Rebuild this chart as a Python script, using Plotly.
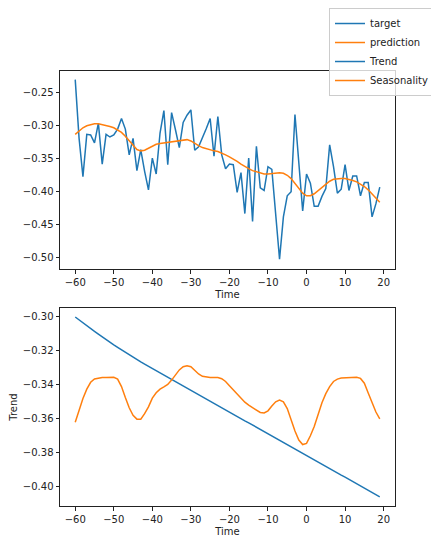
import plotly.graph_objects as go
from plotly.subplots import make_subplots

# time index -60 .. 19
time = list(range(-60, 20))

target = [
    -0.231, -0.320, -0.378, -0.314, -0.315, -0.327, -0.297, -0.359, -0.314, -0.318,
    -0.315, -0.306, -0.290, -0.306, -0.345, -0.320, -0.369, -0.337, -0.370, -0.398,
    -0.350, -0.374, -0.312, -0.278, -0.360, -0.281, -0.307, -0.334, -0.296, -0.285,
    -0.277, -0.338, -0.333, -0.320, -0.305, -0.290, -0.347, -0.287, -0.345, -0.366,
    -0.359, -0.360, -0.402, -0.372, -0.434, -0.350, -0.446, -0.332, -0.395, -0.399,
    -0.363, -0.367, -0.435, -0.503, -0.439, -0.407, -0.401, -0.284, -0.357, -0.430,
    -0.374, -0.388, -0.423, -0.423, -0.408, -0.396, -0.330, -0.363, -0.403, -0.397,
    -0.360, -0.399, -0.377, -0.377, -0.407, -0.387, -0.387, -0.439, -0.419, -0.394,
]

prediction = [
    -0.314, -0.309, -0.304, -0.301, -0.299, -0.298, -0.298, -0.299, -0.300, -0.302,
    -0.304, -0.307, -0.311, -0.317, -0.324, -0.331, -0.337, -0.339, -0.338, -0.335,
    -0.332, -0.329, -0.328, -0.327, -0.326, -0.326, -0.325, -0.323, -0.322, -0.322,
    -0.324, -0.328, -0.331, -0.334, -0.336, -0.338, -0.339, -0.340, -0.342, -0.345,
    -0.348, -0.351, -0.355, -0.359, -0.363, -0.366, -0.369, -0.371, -0.373, -0.374,
    -0.374, -0.373, -0.372, -0.372, -0.373, -0.376, -0.381, -0.388, -0.396, -0.403,
    -0.407, -0.407, -0.404, -0.399, -0.394, -0.389, -0.385, -0.382, -0.381, -0.381,
    -0.381, -0.382, -0.384, -0.386, -0.389, -0.393, -0.398, -0.404, -0.411, -0.417,
]

trend = [
    -0.3000, -0.3018, -0.3035, -0.3052, -0.3069, -0.3085, -0.3101, -0.3118, -0.3133, -0.3149,
    -0.3164, -0.3179, -0.3194, -0.3209, -0.3223, -0.3237, -0.3251, -0.3265, -0.3278, -0.3291,
    -0.3304, -0.3317, -0.3330, -0.3343, -0.3355, -0.3368, -0.3381, -0.3394, -0.3407, -0.3420,
    -0.3432, -0.3445, -0.3458, -0.3471, -0.3484, -0.3496, -0.3509, -0.3522, -0.3535, -0.3548,
    -0.3560, -0.3573, -0.3586, -0.3599, -0.3612, -0.3624, -0.3637, -0.3650, -0.3663, -0.3676,
    -0.3688, -0.3701, -0.3714, -0.3727, -0.3740, -0.3752, -0.3765, -0.3778, -0.3791, -0.3804,
    -0.3816, -0.3829, -0.3842, -0.3855, -0.3868, -0.3880, -0.3893, -0.3906, -0.3919, -0.3932,
    -0.3944, -0.3957, -0.3970, -0.3983, -0.3996, -0.4008, -0.4021, -0.4034, -0.4047, -0.4060,
]

seasonality = [
    -0.3620, -0.3550, -0.3480, -0.3425, -0.3385, -0.3365, -0.3360, -0.3357, -0.3356, -0.3355,
    -0.3355, -0.3366, -0.3410, -0.3475, -0.3535, -0.3580, -0.3602, -0.3602, -0.3570, -0.3530,
    -0.3478, -0.3447, -0.3425, -0.3412, -0.3398, -0.3372, -0.3343, -0.3312, -0.3293, -0.3287,
    -0.3293, -0.3315, -0.3336, -0.3350, -0.3355, -0.3356, -0.3356, -0.3357, -0.3364, -0.3380,
    -0.3405, -0.3430, -0.3458, -0.3482, -0.3502, -0.3520, -0.3535, -0.3550, -0.3563, -0.3566,
    -0.3553, -0.3525, -0.3500, -0.3490, -0.3500, -0.3540, -0.3610, -0.3672, -0.3725, -0.3752,
    -0.3745, -0.3700, -0.3645, -0.3575, -0.3505, -0.3452, -0.3410, -0.3380, -0.3366, -0.3360,
    -0.3358, -0.3357, -0.3355, -0.3355, -0.3362, -0.3390, -0.3448, -0.3506, -0.3560, -0.3600,
]

blue = "#1f77b4"
orange = "#ff7f0e"

fig = make_subplots(rows=2, cols=1, vertical_spacing=0.0896)

fig.add_trace(go.Scatter(x=time, y=target, mode="lines", name="target",
                         line=dict(color=blue, width=1.5)), row=1, col=1)
fig.add_trace(go.Scatter(x=time, y=prediction, mode="lines", name="prediction",
                         line=dict(color=orange, width=1.5)), row=1, col=1)
fig.add_trace(go.Scatter(x=time, y=trend, mode="lines", name="Trend",
                         line=dict(color=blue, width=1.5)), row=2, col=1)
fig.add_trace(go.Scatter(x=time, y=seasonality, mode="lines", name="Seasonality",
                         line=dict(color=orange, width=1.5)), row=2, col=1)

axis_style = dict(showline=True, linecolor="#222", linewidth=1, mirror=True,
                  ticks="outside", ticklen=3.5, tickcolor="#222", showgrid=False,
                  zeroline=False, tickfont=dict(size=10, color="#222"))

fig.update_xaxes(range=[-63.95, 22.95], dtick=10, tick0=0,
                 title=dict(text="Time", font=dict(size=10, color="#222"), standoff=4),
                 **axis_style)
fig.update_yaxes(range=[-0.518, -0.218], dtick=0.05, tick0=0, tickformat=".2f",
                 row=1, col=1, **axis_style)
fig.update_yaxes(range=[-0.4114, -0.2947], dtick=0.02, tick0=0, tickformat=".2f",
                 title=dict(text="Trend", font=dict(size=10, color="#222"), standoff=9),
                 row=2, col=1, **axis_style)

# the page puts the figure 8px in from the top-left corner
fig.update_layout(
    width=431, height=536,
    margin=dict(l=52, r=44, t=63, b=38, autoexpand=False),
    paper_bgcolor="white", plot_bgcolor="white",
    font=dict(family="DejaVu Sans", size=10, color="#222"),
    legend=dict(x=1.1164, y=1.1448, xanchor="right", yanchor="top",
                bgcolor="rgba(255,255,255,0.8)", bordercolor="#ccc", borderwidth=1,
                font=dict(size=10), tracegroupgap=0, itemwidth=30),
)

fig.write_html("out.html")
